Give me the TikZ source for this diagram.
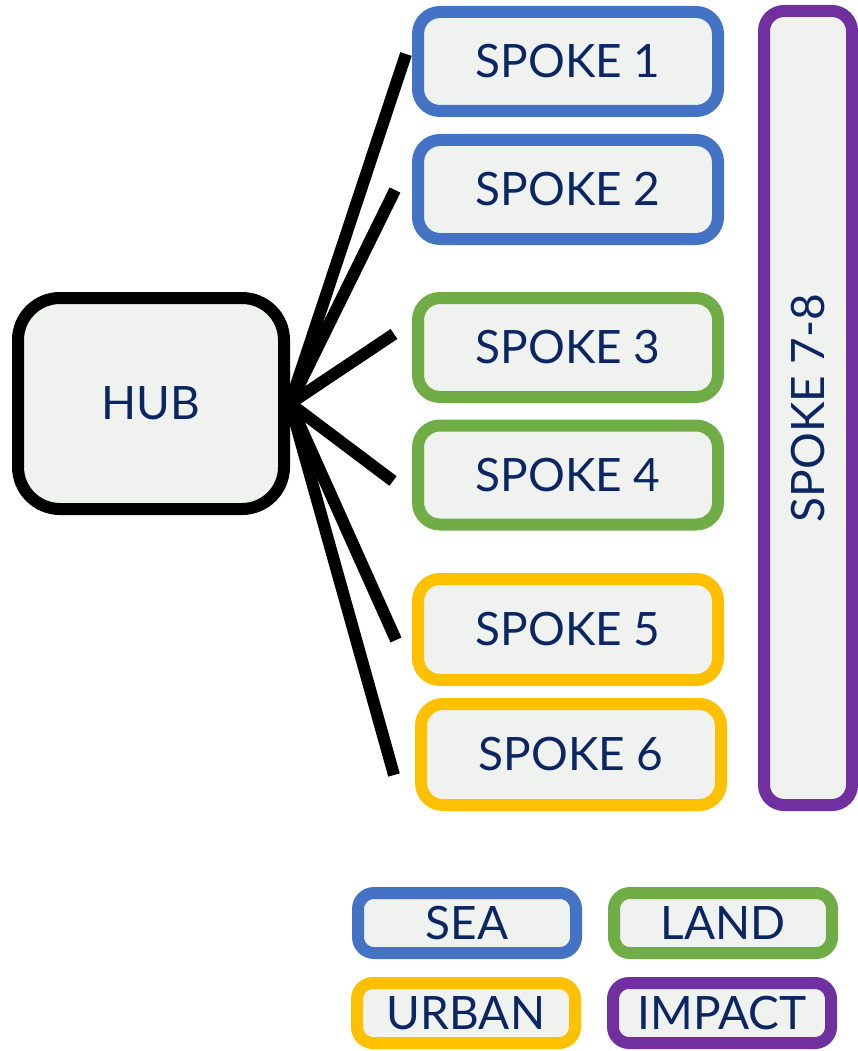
\documentclass[tikz,border=0pt]{standalone}
\usepackage{fontspec}
\setmainfont{Lato}
\definecolor{navy}{HTML}{0B2662}
\definecolor{boxfill}{HTML}{F0F2EF}
\definecolor{sea}{HTML}{4472C4}
\definecolor{land}{HTML}{70AD47}
\definecolor{urban}{HTML}{FFC000}
\definecolor{impact}{HTML}{7030A0}
\begin{document}
\begin{tikzpicture}[x=1pt,y=-1pt,
    box/.style={draw, fill=boxfill, line width=12pt, rounded corners=22pt,
      text=navy, font=\fontsize{46}{50}\selectfont, inner sep=0pt},
    spokebox/.style={box, minimum width=300pt, minimum height=99pt},
    keybox/.style={box, rounded corners=16pt, minimum width=218pt, minimum height=60pt},
    spokeline/.style={line width=12pt}]
  \useasboundingbox (0,0) rectangle (858,1051);
  % hub
  \node[box, draw=black, rounded corners=42pt, minimum width=266pt, minimum height=211pt] (hub) at (151,403.5) {HUB};
  % spokes
  \node[spokebox, draw=sea] (spoke1) at (568,61.5) {SPOKE 1};
  \node[spokebox, draw=sea] (spoke2) at (568,189.5) {SPOKE 2};
  \node[spokebox, draw=land] (spoke3) at (568,347.5) {SPOKE 3};
  \node[spokebox, draw=land] (spoke4) at (568,475) {SPOKE 4};
  \node[spokebox, draw=urban, minimum height=101pt] (spoke5) at (568,629.5) {SPOKE 5};
  \node[spokebox, draw=urban, minimum height=101pt] (spoke6) at (571,754.5) {SPOKE 6};
  \node[box, draw=impact, rounded corners=20pt, minimum width=88pt, minimum height=794pt] (spoke78) at (808,408) {};
  \node[text=navy, font=\fontsize{46}{50}\selectfont, rotate=90] (spoke78label) at (spoke78.center) {SPOKE 7-8};
  % spoke lines
  \coordinate (end1) at (406,54);
  \coordinate (end2) at (395,190);
  \coordinate (end3) at (394,334);
  \coordinate (end4) at (393,481);
  \coordinate (end5) at (396,640);
  \coordinate (end6) at (394,775);
  \foreach \i in {1,...,6}
    \draw[spokeline] (hub.east) -- (end\i);
  % legend
  \node[keybox, draw=sea] (keysea) at (467,923) {SEA};
  \node[keybox, draw=land] (keyland) at (723,923) {LAND};
  \node[keybox, draw=urban] (keyurban) at (466,1013) {URBAN};
  \node[keybox, draw=impact] (keyimpact) at (722,1013) {IMPACT};
\end{tikzpicture}
\end{document}
